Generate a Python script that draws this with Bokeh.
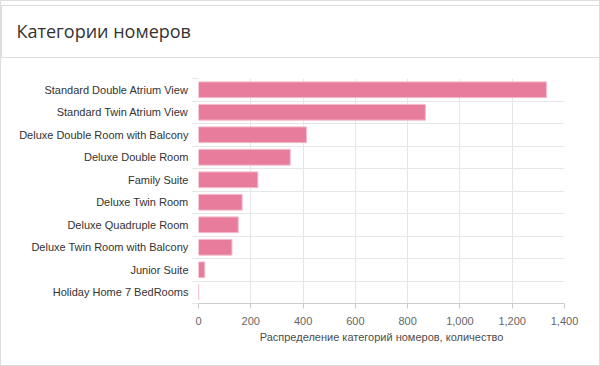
from bokeh.plotting import figure
from bokeh.models import ColumnDataSource, Range1d, FixedTicker, NumeralTickFormatter, Title
from bokeh.embed import file_html
from bokeh.resources import INLINE

title_text = "Категории номеров"
x_label = "Распределение категорий номеров, количество"
categories = [
    "Standard Double Atrium View",
    "Standard Twin Atrium View",
    "Deluxe Double Room with Balcony",
    "Deluxe Double Room",
    "Family Suite",
    "Deluxe Twin Room",
    "Deluxe Quadruple Room",
    "Deluxe Twin Room with Balcony",
    "Junior Suite",
    "Holiday Home 7 BedRooms",
]
counts = [1331, 868, 413, 351, 227, 167, 152, 128, 24, 1]
x_ticks = [0, 200, 400, 600, 800, 1000, 1200, 1400]

n = len(categories)
ypos = [n - i - 0.5 for i in range(n)]
boundaries = [float(i) for i in range(n + 1)]

W, H = 600, 366
ML, MR, MT, MB = 197, 37, 77, 64

p = figure(width=W, height=H, output_backend="svg", toolbar_location=None,
           x_range=Range1d(0, 1400), y_range=Range1d(0, n),
           min_border_left=ML, min_border_right=MR, min_border_top=MT, min_border_bottom=MB)
p.title.text = ""
p.outline_line_color = None
p.background_fill_color = "white"
p.border_fill_color = "white"
p.styles = {"border": "1px solid #dddddd", "box-sizing": "border-box"}

# spacer between the header separator and the plot frame (closest to the frame)
gap = Title(text=" ", text_font_size="2px", text_color="white", standoff=17)
p.add_layout(gap, "above")
# header: title text inside a box whose bottom edge is the separator line
head = Title(text=title_text, align="left", offset=-ML, standoff=0,
             text_font="Open Sans", text_font_size="18px", text_font_style="normal",
             text_color="#333333", border_line_color="#dddddd",
             padding=(15, 450, 13, 15))
p.add_layout(head, "above")

src = ColumnDataSource(dict(y=ypos, v=counts, c=categories))
p.hbar(y="y", right="v", left=0, height=0.7, source=src,
       fill_color="#e87c9c", line_color="#f4bccb", line_width=1)

FONT = "Liberation Sans"
# x axis
xa = p.xaxis[0]
xa.ticker = FixedTicker(ticks=x_ticks)
xa.formatter = NumeralTickFormatter(format="0,0")
xa.axis_line_color = "#cccccc"
xa.major_tick_line_color = "#cccccc"
xa.major_tick_out = 5
xa.major_tick_in = 0
xa.minor_tick_line_color = None
xa.major_label_text_font = FONT
xa.major_label_text_font_size = "11px"
xa.major_label_text_color = "#666666"
xa.major_label_standoff = 8
xa.axis_label = x_label
xa.axis_label_text_font = FONT
xa.axis_label_text_font_size = "11px"
xa.axis_label_text_font_style = "normal"
xa.axis_label_text_color = "#4d4d4d"
xa.axis_label_standoff = 3

# y axis
ya = p.yaxis[0]
ya.ticker = FixedTicker(ticks=ypos, minor_ticks=boundaries)
ya.major_label_overrides = {y: c for y, c in zip(ypos, categories)}
ya.axis_line_color = None
ya.major_tick_line_color = None
ya.major_tick_out = 0
ya.major_tick_in = 0
ya.minor_tick_line_color = "#e6e6e6"
ya.minor_tick_out = 7
ya.minor_tick_in = 0
ya.major_label_standoff = 3
ya.major_label_text_font = FONT
ya.major_label_text_font_size = "11px"
ya.major_label_text_color = "#333333"

p.xgrid.ticker = FixedTicker(ticks=x_ticks)
p.xgrid.grid_line_color = "#e6e6e6"
p.ygrid.ticker = FixedTicker(ticks=boundaries)
p.ygrid.grid_line_color = "#e6e6e6"

open("out.html", "w").write(file_html(p, INLINE))
